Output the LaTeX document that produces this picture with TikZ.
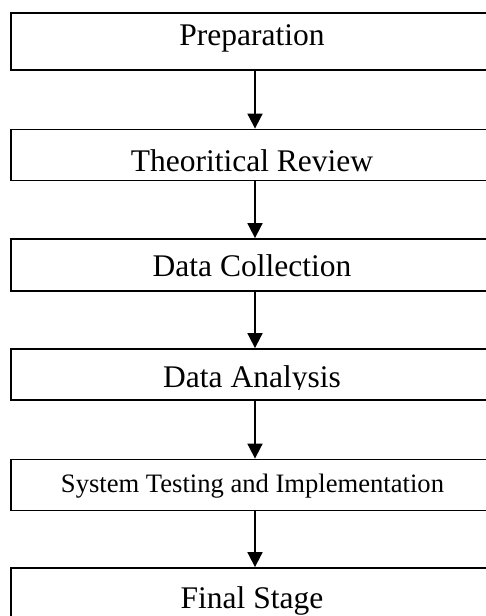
\documentclass[tikz,border=0pt]{standalone}
\usepackage{fontspec}
\setmainfont{Liberation Serif}
\usetikzlibrary{arrows.meta}
\tikzset{
  stagebox/.style={draw=black, line width=1.8pt, rectangle, minimum width=484pt, inner sep=0pt, anchor=west},
  bigtext/.style={anchor=base, inner sep=0pt, font=\fontsize{31.5}{36}\selectfont},
  smalltext/.style={anchor=base, inner sep=0pt, font=\fontsize{26.6}{30}\selectfont},
  flowarrow/.style={line width=1.8pt, -{Triangle[length=15pt,width=15pt]}}
}
\begin{document}
\begin{tikzpicture}[x=1pt,y=1pt]
\useasboundingbox (0,0) rectangle (486,616);
% boxes
\node[stagebox, minimum height=57pt] (b1) at (10,574.5) {};
\node[stagebox, minimum height=51pt] (b2) at (10,461) {};
\node[stagebox, minimum height=52pt] (b3) at (10,351) {};
\node[stagebox, minimum height=51pt] (b4) at (10,241.5) {};
\node[stagebox, minimum height=51pt] (b5) at (10,131) {};
\node[stagebox, minimum height=57pt] (b6) at (10,19.5) {};
% texts
\node[bigtext] (t1) at (252,570) {Preparation};
\node[bigtext] (t2) at (252,444) {Theoritical Review};
\node[bigtext] (t3) at (252,339) {Data Collection};
\begin{scope}
\clip (0,226) rectangle (486,270);
\node[bigtext] (t4) at (252,228) {Data Analysis};
\end{scope}
\node[smalltext] (t5) at (252.5,123.5) {System Testing and Implementation};
\node[bigtext] (t6) at (252,8) {Final Stage};
% arrows
\coordinate (ax) at (255,0);
\draw[flowarrow] (b1.south -| ax) -- (b2.north -| ax);
\draw[flowarrow] (b2.south -| ax) -- (b3.north -| ax);
\draw[flowarrow] (b3.south -| ax) -- (b4.north -| ax);
\draw[flowarrow] (b4.south -| ax) -- (b5.north -| ax);
\draw[flowarrow] (b5.south -| ax) -- (b6.north -| ax);
\end{tikzpicture}
\end{document}
